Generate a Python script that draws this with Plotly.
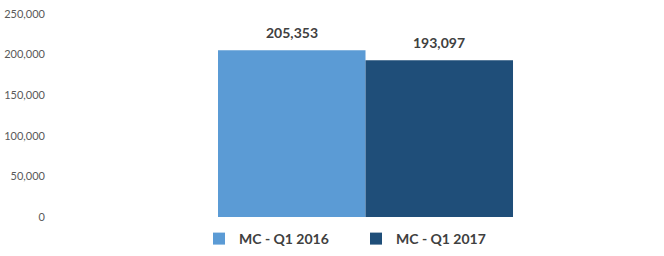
import plotly.graph_objects as go

categories = ["MC"]
series_names = ["MC - Q1 2016", "MC - Q1 2017"]
series_values = [[205353], [193097]]
colors = ["#5B9BD5", "#1F4E79"]
tick_vals = [0, 50000, 100000, 150000, 200000, 250000]
tick_text = ["0", "50,000", "100,000", "150,000", "200,000", "250,000"]

fig = go.Figure()
for name, vals, c in zip(series_names, series_values, colors):
    fig.add_trace(go.Bar(x=categories, y=vals, name=name, marker=dict(color=c, line=dict(width=0))))

# data labels as annotations above bars
bar_w = 0.6 / 2
for i, vals in enumerate(series_values):
    off = -bar_w / 2 + i * bar_w
    for v in vals:
        fig.add_annotation(x=off, y=v, xref="x", yref="y", text=f"<b>{v:,}</b>",
                           showarrow=False, yanchor="bottom", yshift=7,
                           font=dict(family="Lato", size=14, color="#404040"))

fig.update_layout(
    width=664, height=256,
    margin=dict(l=52, r=14, t=14, b=39, autoexpand=False),
    paper_bgcolor="white", plot_bgcolor="white",
    barmode="group", bargap=0.4, bargroupgap=0,
    font=dict(family="Lato", color="#595959"),
    showlegend=True,
    legend=dict(orientation="h", x=(199 - 52) / 598, xanchor="left",
                yref="container", y=(256 - 239) / 256, yanchor="middle",
                font=dict(family="Lato", size=14, color="#404040", weight="bold"),
                entrywidth=112, entrywidthmode="pixels"),
    xaxis=dict(type="category", range=[-0.6376, 0.5786], showticklabels=False,
               showgrid=False, zeroline=False, showline=False, automargin=False),
    yaxis=dict(range=[0, 250000], tickvals=tick_vals, ticktext=tick_text,
               showgrid=False, zeroline=False, showline=False, automargin=False,
               tickfont=dict(family="Lato", size=11, color="#595959"), ticklabelstandoff=6),
)
fig.write_html("out.html")
